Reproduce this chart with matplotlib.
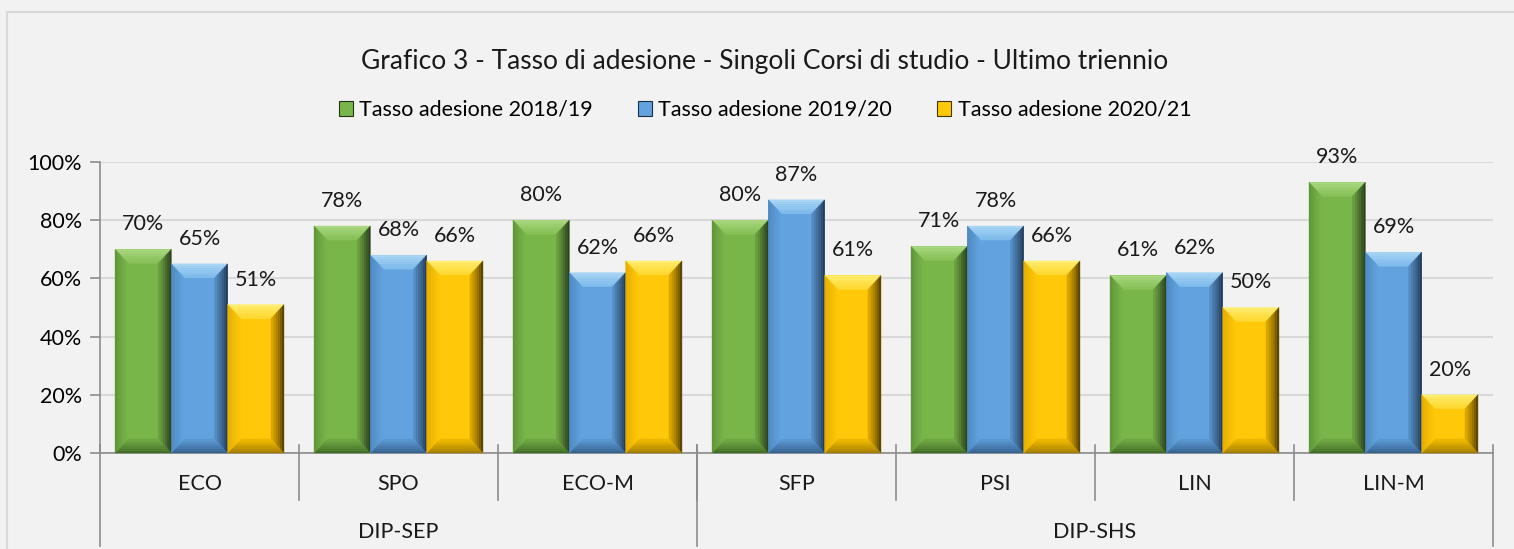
import matplotlib
matplotlib.use("Agg")
import matplotlib.pyplot as plt
from matplotlib.patches import Polygon, Rectangle
from matplotlib.lines import Line2D
from matplotlib.colors import to_rgb
import matplotlib.transforms as mtransforms
import numpy as np

plt.rcParams['font.family'] = ['Lato', 'DejaVu Sans']

title = "Grafico 3 - Tasso di adesione - Singoli Corsi di studio - Ultimo triennio"
categories = ["ECO", "SPO", "ECO-M", "SFP", "PSI", "LIN", "LIN-M"]
groups = ["DIP-SEP", "DIP-SHS"]
group_sizes = [3, 4]
series_names = ["Tasso adesione 2018/19", "Tasso adesione 2019/20", "Tasso adesione 2020/21"]
v2018 = [0.70, 0.78, 0.80, 0.80, 0.71, 0.61, 0.93]
v2019 = [0.65, 0.68, 0.62, 0.87, 0.78, 0.62, 0.69]
v2020 = [0.51, 0.66, 0.66, 0.61, 0.66, 0.50, 0.20]
yticks = [0, 0.2, 0.4, 0.6, 0.8, 1.0]

# (edge colour, inner colour) per bevel side: top, right, bottom, left
colors = [
    dict(face="#79B64A", top=("#B0DC88", "#86C056"), right=("#22331A", "#6EA542"),
         bottom=("#3C6524", "#72AB45"), left=("#5C9236", "#79B64A")),
    dict(face="#62A3DF", top=("#B0DAF7", "#7EBBEB"), right=("#1B2E47", "#5892CA"),
         bottom=("#325C88", "#5C9AD4"), left=("#4C86BE", "#62A3DF")),
    dict(face="#FFC808", top=("#FFF27A", "#FFD830"), right=("#463400", "#E6AE00"),
         bottom=("#9A7400", "#F2BC00"), left=("#E2AA00", "#FFC808")),
]

W, H = 1514, 549
fig = plt.figure(figsize=(W / 100, H / 100), dpi=100)
fig.patch.set_facecolor("#F2F2F2")

# chart border
fig.add_artist(Line2D([7 / W, 7 / W], [0, 1 - 12 / H], transform=fig.transFigure, color="#D9D9D9", lw=1.5))
fig.add_artist(Line2D([7 / W, 1], [1 - 12 / H, 1 - 12 / H], transform=fig.transFigure, color="#D9D9D9", lw=1.5))

x0, x1 = 100, 1493
y0, y1 = 453, 162
ax = fig.add_axes([x0 / W, (H - y0) / H, (x1 - x0) / W, (y0 - y1) / H])
ax.set_facecolor("#F2F2F2")
ax.set_xlim(-0.5, len(categories) - 0.5)
ax.set_ylim(0, 1.0)

for s in ["top", "right", "left"]:
    ax.spines[s].set_visible(False)
ax.spines["bottom"].set_color("#8C8C8C")
ax.spines["bottom"].set_linewidth(1.2)
ax.spines["bottom"].set_zorder(5)

FS = 15.5
ax.set_yticks(yticks)
ax.set_yticklabels([f"{int(round(t * 100))}%" for t in yticks], fontsize=FS)
ax.tick_params(axis="y", length=7, color="#8C8C8C", width=1.2, pad=6)
ax.yaxis.grid(True, color="#D9D9D9", lw=1.5)
ax.set_axisbelow(True)
ax.set_xticks([])

trans_b = mtransforms.blended_transform_factory(ax.transData, ax.transAxes)
ax.plot([-0.5, -0.5], [1.0, 0], transform=trans_b, color="#8C8C8C", lw=1.2, clip_on=False, zorder=5)

bw = 0.283
offsets = [-bw, 0, bw]
xs = np.arange(len(categories))
all_vals = [v2018, v2019, v2020]
bars_all = []
for i, vals in enumerate(all_vals):
    bars = ax.bar(xs + offsets[i], vals, width=bw, color=colors[i]["face"], edgecolor="none",
                  zorder=3, label=series_names[i])
    bars_all.append(bars)
    for b, v in zip(bars, vals):
        ax.annotate(f"{int(round(v * 100))}%", (b.get_x() + b.get_width() / 2, v),
                    xytext=(0, 18), textcoords="offset points", ha="center", va="center",
                    fontsize=FS, color="#1a1a1a", zorder=6)


def mix(c1, c2, t):
    a, b = np.array(to_rgb(c1)), np.array(to_rgb(c2))
    return tuple(a + (b - a) * t)


# gradient bevel effect in display coordinates derived from each bar
bev_x = 13
bev_y = 14
steps = 6
for i, bars in enumerate(bars_all):
    c = colors[i]
    for b in bars:
        (bx0, by0) = ax.transData.transform((b.get_x(), 0))
        (bx1, by1) = ax.transData.transform((b.get_x() + b.get_width(), b.get_height()))
        h = by1 - by0
        ey = min(bev_y, h / 2)
        ex = bev_x
        for k in range(steps):
            t0, t1 = k / steps, (k + 1) / steps
            tm = (t0 + t1) / 2
            ax0, ax1_ = ex * t0, ex * t1
            ay0, ay1 = ey * t0, ey * t1
            sides = [
                ("top", [(bx0 + ax0, by1 - ay0), (bx1 - ax0, by1 - ay0), (bx1 - ax1_, by1 - ay1), (bx0 + ax1_, by1 - ay1)]),
                ("right", [(bx1 - ax0, by1 - ay0), (bx1 - ax0, by0 + ay0), (bx1 - ax1_, by0 + ay1), (bx1 - ax1_, by1 - ay1)]),
                ("bottom", [(bx0 + ax0, by0 + ay0), (bx1 - ax0, by0 + ay0), (bx1 - ax1_, by0 + ay1), (bx0 + ax1_, by0 + ay1)]),
                ("left", [(bx0 + ax0, by0 + ay0), (bx0 + ax0, by1 - ay0), (bx0 + ax1_, by1 - ay1), (bx0 + ax1_, by0 + ay1)]),
            ]
            for name, pts in sides:
                e_col, i_col = c[name]
                col = mix(e_col, i_col, tm ** 0.8)
                p = Polygon(pts, closed=True, facecolor=col, edgecolor=col, lw=0.3,
                            transform=None, zorder=4)
                fig.add_artist(p)

# category separators and labels
for k in range(1, len(categories)):
    ax.plot([k - 0.5, k - 0.5], [0.0275, -0.1615], transform=trans_b, color="#8C8C8C", lw=1.2,
            clip_on=False, zorder=5)
bounds = np.cumsum([0] + group_sizes)
for b in bounds:
    ax.plot([b - 0.5, b - 0.5], [0.0275, -0.32], transform=trans_b, color="#8C8C8C", lw=1.2,
            clip_on=False, zorder=5)
for k, cat in enumerate(categories):
    ax.text(k, -0.105, cat, transform=trans_b, ha="center", va="center", fontsize=FS, color="#1a1a1a")
for g, name in enumerate(groups):
    cx = (bounds[g] + bounds[g + 1]) / 2 - 0.5
    ax.text(cx, -0.27, name, transform=trans_b, ha="center", va="center", fontsize=FS, color="#1a1a1a")

cxf = 765 / W
fig.text(cxf, 1 - 61 / H, title, ha="center", va="center", fontsize=19, color="#1a1a1a")

handles = [Rectangle((0, 0), 1, 1, facecolor=colors[i]["face"], edgecolor=colors[i]["right"][0], lw=0.8)
           for i in range(3)]
fig.legend(handles, series_names, loc="center", bbox_to_anchor=(cxf, 1 - 110 / H), ncol=3,
           frameon=False, fontsize=FS, handlelength=0.65, handleheight=0.65, handletextpad=0.3,
           columnspacing=2.1)

fig.savefig("out.png", dpi=100, facecolor=fig.get_facecolor())
